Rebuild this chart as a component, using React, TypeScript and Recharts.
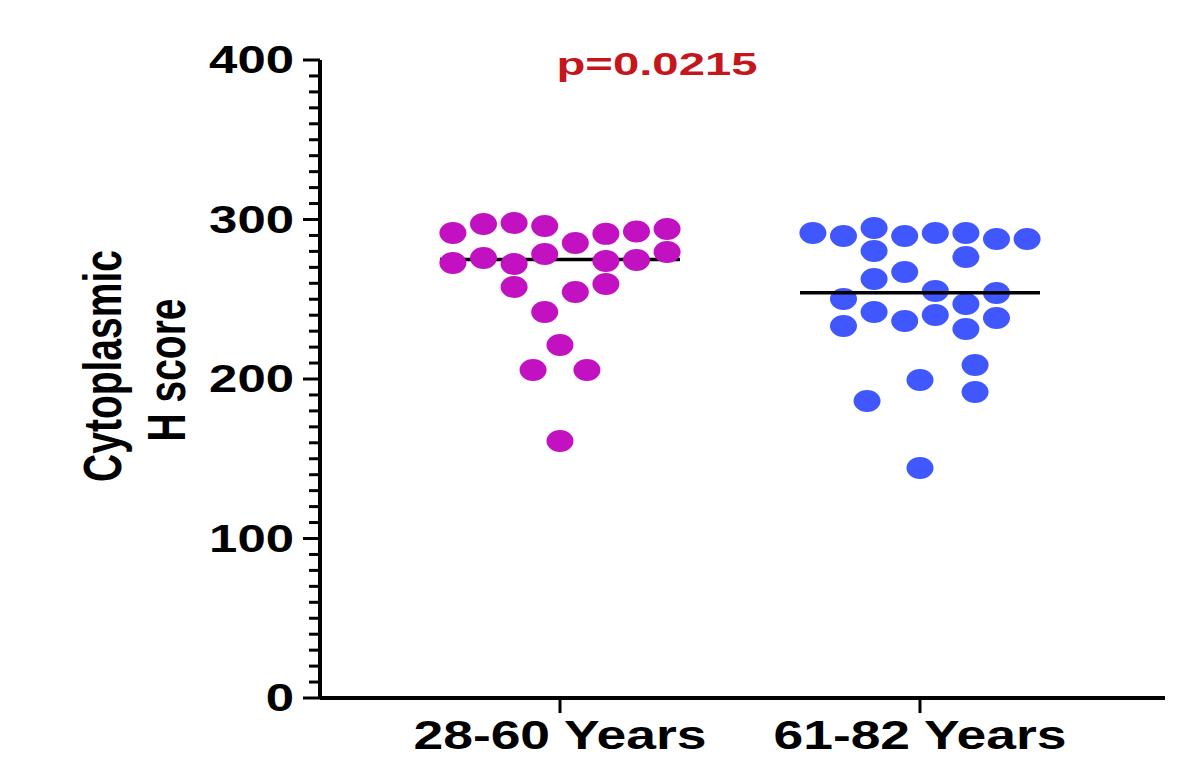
import React from 'react';
import { ScatterChart, Scatter, XAxis, YAxis } from 'recharts';

// groups on the x axis
const groupNames = ['28-60 Years', '61-82 Years'];
const groupCenters = [1, 2];

// H scores, with the swarm column each dot sits in
const youngScores = [291.5, 272.7, 297.2, 275.9, 297.8, 272.1, 257.7, 295.9, 278.4, 242.0, 285.3, 254.5, 291.0, 274.0, 259.6, 292.5, 274.6, 294.0, 279.6, 221.3, 161.1, 205.6, 205.6];
const youngSlots = [-3.5, -3.5, -2.5, -2.5, -1.5, -1.5, -1.5, -0.5, -0.5, -0.5, 0.5, 0.5, 1.5, 1.5, 1.5, 2.5, 2.5, 3.5, 3.5, 0, 0, -0.88, 0.88];

const olderScores = [291.5, 289.7, 250.2, 233.2, 294.7, 280.3, 262.7, 242.0, 289.7, 267.1, 236.4, 291.5, 255.2, 240.1, 291.5, 276.5, 247.0, 231.3, 287.8, 253.9, 238.2, 287.8, 208.8, 191.8, 199.4, 144.2, 186.2];
const olderSlots = [-3.5, -2.5, -2.5, -2.5, -1.5, -1.5, -1.5, -1.5, -0.5, -0.5, -0.5, 0.5, 0.5, 0.5, 1.5, 1.5, 1.5, 1.5, 2.5, 2.5, 2.5, 3.5, 1.8, 1.8, 0, 0, -1.73];

// median bars
const youngMedian = 275;
const olderMedian = 254;

const yMajorTicks = [0, 100, 200, 300, 400];
const yTicks = Array.from({ length: 41 }, (_, i) => i * 10);
const pValueText = 'p=0.0215';

const SLOT = 0.085;
const MEDIAN_HALF = 1 / 3;
const FONT = '"Liberation Sans", Arial, Helvetica, sans-serif';

const buildPoints = (center: number, scores: number[], slots: number[]) =>
  scores.map((s, i) => ({ x: center + slots[i] * SLOT, y: s }));

const youngData = buildPoints(groupCenters[0], youngScores, youngSlots);
const olderData = buildPoints(groupCenters[1], olderScores, olderSlots);
const youngMedianData = [
  { x: groupCenters[0] - MEDIAN_HALF, y: youngMedian },
  { x: groupCenters[0] + MEDIAN_HALF, y: youngMedian },
];
const olderMedianData = [
  { x: groupCenters[1] - MEDIAN_HALF, y: olderMedian },
  { x: groupCenters[1] + MEDIAN_HALF, y: olderMedian },
];

const dotShape = (fill: string) => (props: any) => (
  <ellipse cx={props.cx} cy={props.cy} rx={13.5} ry={11} fill={fill} />
);

const ScoreTick = (props: any) => {
  const { x, y, payload } = props;
  const v = payload.value;
  const major = yMajorTicks.includes(v);
  return (
    <g>
      <line x1={x - (major ? 17 : 11)} x2={x} y1={y} y2={y} stroke="#000" strokeWidth={3} />
      {major && (
        <text
          x={x - 26}
          y={y + 13}
          textAnchor="end"
          fontSize={38}
          fontWeight="bold"
          fontFamily={FONT}
          fill="#000"
          textLength={String(v).length * 28.3}
          lengthAdjust="spacingAndGlyphs"
        >
          {v}
        </text>
      )}
    </g>
  );
};

const GroupTick = (props: any) => {
  const { x, y, payload } = props;
  const idx = groupCenters.indexOf(payload.value);
  return (
    <g>
      <line x1={x} x2={x} y1={y} y2={y + 15} stroke="#000" strokeWidth={3} />
      <text
        x={x}
        y={y + 51}
        textAnchor="middle"
        fontSize={41}
        fontWeight="bold"
        fontFamily={FONT}
        fill="#000"
        textLength={293}
        lengthAdjust="spacingAndGlyphs"
      >
        {groupNames[idx]}
      </text>
    </g>
  );
};

const App: React.FC = () => {
  return (
    <div style={{ position: 'absolute', left: 0, top: 0, background: '#fff' }}>
      <ScatterChart width={1178} height={758} margin={{ top: 60, right: 13, bottom: 0, left: 220 }}>
        <XAxis
          type="number"
          dataKey="x"
          domain={[1 / 3, 2.6806]}
          ticks={groupCenters}
          interval={0}
          allowDataOverflow
          height={60}
          tickSize={0}
          tickMargin={0}
          tickLine={false}
          tick={<GroupTick />}
          axisLine={{ stroke: '#000', strokeWidth: 4 }}
        />
        <YAxis
          type="number"
          dataKey="y"
          domain={[0, 400]}
          ticks={yTicks}
          interval={0}
          width={100}
          tickSize={0}
          tickMargin={0}
          tickLine={false}
          tick={<ScoreTick />}
          axisLine={{ stroke: '#000', strokeWidth: 4 }}
        />
        <Scatter
          data={youngMedianData}
          line={{ stroke: '#000', strokeWidth: 3.5 }}
          shape={() => <g />}
          isAnimationActive={false}
        />
        <Scatter data={youngData} shape={dotShape('#c111c0')} isAnimationActive={false} />
        <Scatter data={olderData} shape={dotShape('#4057fd')} isAnimationActive={false} />
        <Scatter
          data={olderMedianData}
          line={{ stroke: '#000', strokeWidth: 3.5 }}
          shape={() => <g />}
          isAnimationActive={false}
        />
        <text
          transform="translate(121,366) scale(1.38,1) rotate(-90)"
          textAnchor="middle"
          fontSize={39}
          fontWeight="bold"
          fontFamily={FONT}
          fill="#000"
        >
          Cytoplasmic
        </text>
        <text
          transform="translate(185,370) scale(1.38,1) rotate(-90)"
          textAnchor="middle"
          fontSize={39}
          fontWeight="bold"
          fontFamily={FONT}
          fill="#000"
        >
          H score
        </text>
        <text
          x={657}
          y={75}
          textAnchor="middle"
          fontSize={32}
          fontWeight="bold"
          fontFamily={FONT}
          fill="#c4161c"
          textLength={201}
          lengthAdjust="spacingAndGlyphs"
        >
          {pValueText}
        </text>
      </ScatterChart>
    </div>
  );
};

export default App;
